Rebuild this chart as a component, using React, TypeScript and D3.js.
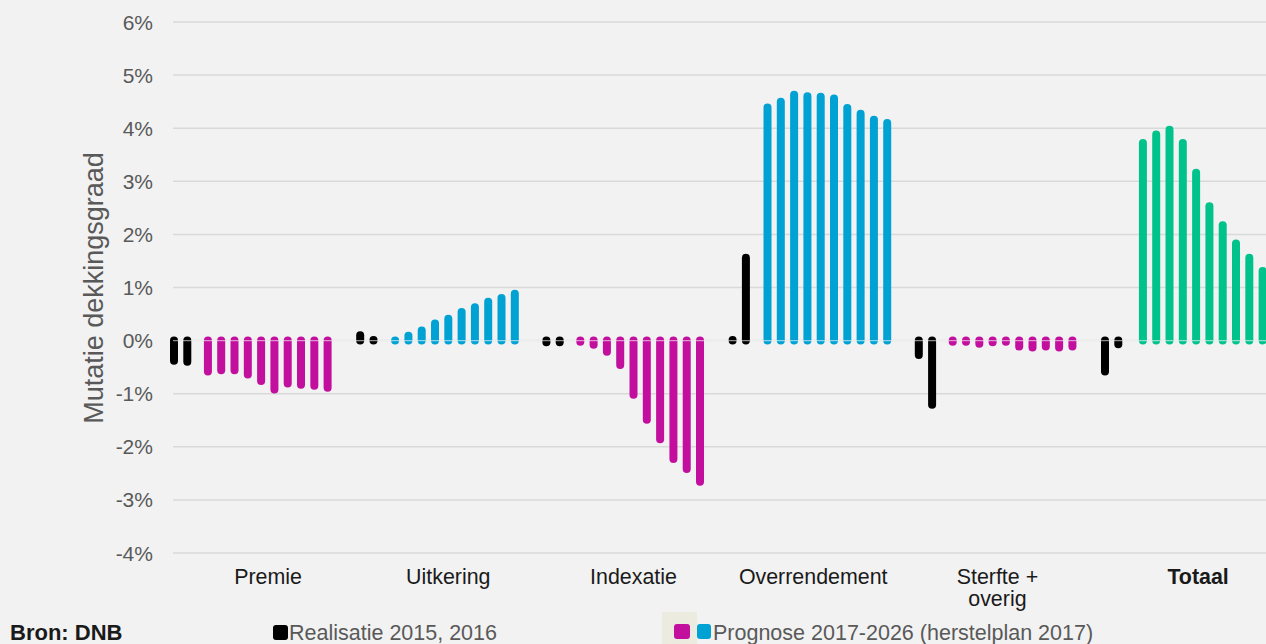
import React from "react";
import * as d3 from "d3";

const categories = ["Premie", "Uitkering", "Indexatie", "Overrendement", "Sterfte + overig", "Totaal"];
const categoryLines = [["Premie"], ["Uitkering"], ["Indexatie"], ["Overrendement"], ["Sterfte +", "overig"], ["Totaal"]];
const realisatie = [
  [-0.38, -0.4],
  [0.1, 0.01],
  [-0.03, -0.03],
  [0.01, 1.56],
  [-0.27, -1.21],
  [-0.58, -0.07],
];
const prognose = [
  [-0.58, -0.56, -0.56, -0.64, -0.76, -0.92, -0.81, -0.83, -0.85, -0.89],
  [0.0, 0.09, 0.19, 0.32, 0.41, 0.54, 0.63, 0.73, 0.8, 0.88],
  [-0.02, -0.08, -0.21, -0.46, -1.02, -1.49, -1.86, -2.23, -2.42, -2.66],
  [4.39, 4.5, 4.63, 4.6, 4.59, 4.56, 4.38, 4.27, 4.16, 4.1],
  [-0.02, -0.02, -0.06, -0.03, -0.02, -0.11, -0.13, -0.11, -0.13, -0.11],
  [3.72, 3.88, 3.97, 3.72, 3.16, 2.53, 2.17, 1.83, 1.56, 1.31],
];
const prognoseKind = ["neg", "pos", "neg", "pos", "neg", "tot"];
const yTicks = [-4, -3, -2, -1, 0, 1, 2, 3, 4, 5, 6];
const legendLabels = ["Realisatie 2015, 2016", "Prognose 2017-2026 (herstelplan 2017)"];
const sourceLabel = "Bron: DNB";
const yTitle = "Mutatie dekkingsgraad";

const W = 1266;
const H = 644;
const FONT = "'Liberation Sans', Arial, Helvetica, sans-serif";
const colors: Record<string, string> = {
  real: "#000000",
  neg: "#c20f9e",
  pos: "#00a1d3",
  tot: "#00c28b",
};
const labelShift = [1, -5, -6, -12.5, -14.5, 0];
const groupShift = [0, 1, 0, 1, 0, 4];

export default function App() {
  const y = d3.scaleLinear().domain([-4, 6]).range([553, 22]);
  const x = d3
    .scaleBand<string>()
    .domain(categories)
    .range([174, 174 + 6 * 186.2])
    .paddingInner(0)
    .paddingOuter(0);
  const slot = d3.scaleLinear().domain([0, 1]).range([0, 13.3]);
  const bw = 8;

  const bars: { x: number; v: number; c: string }[] = [];
  categories.forEach((cat, i) => {
    const x0 = x(cat)!;
    realisatie[i].forEach((v, k) => bars.push({ x: x0 + slot(k), v, c: colors.real }));
    prognose[i].forEach((v, k) =>
      bars.push({ x: x0 + groupShift[i] + slot(2.55 + k), v, c: colors[prognoseKind[i]] })
    );
  });

  return (
    <div style={{ position: "fixed", left: 0, top: 0, width: W, height: H, background: "#f2f2f2", overflow: "hidden" }}>
      <svg width={W} height={H} style={{ display: "block", fontFamily: FONT }}>
        <rect x={0} y={0} width={W} height={H} fill="#f2f2f2" />
        {yTicks.map((t) => (
          <g key={t}>
            <line x1={173} x2={W} y1={y(t)} y2={y(t)} stroke="#d9d9d9" strokeWidth={1.5} />
            <text x={153} y={y(t) + 7.5} textAnchor="end" fontSize={21} fill="#595959">
              {t}%
            </text>
          </g>
        ))}
        {bars.map((b, i) => (
          <line
            key={i}
            x1={b.x}
            x2={b.x}
            y1={y(0)}
            y2={y(b.v)}
            stroke={b.c}
            strokeWidth={bw}
            strokeLinecap="round"
          />
        ))}
        <line x1={173} x2={W} y1={y(0)} y2={y(0)} stroke="#ffffff" strokeOpacity={0.55} strokeWidth={1.2} />
        <text
          transform={`translate(103,288) rotate(-90)`}
          textAnchor="middle"
          fontSize={27}
          fill="#595959"
        >
          {yTitle}
        </text>
        {categories.map((cat, i) => (
          <text
            key={cat}
            x={x(cat)! + x.bandwidth() / 2 + labelShift[i]}
            y={584}
            textAnchor="middle"
            fontSize={21.4}
            fill="#1a1a1a"
            fontWeight={cat === "Totaal" ? "bold" : "normal"}
          >
            {categoryLines[i].map((ln, j) => (
              <tspan key={j} x={x(cat)! + x.bandwidth() / 2 + labelShift[i]} dy={j === 0 ? 0 : 22}>
                {ln}
              </tspan>
            ))}
          </text>
        ))}
        <text x={10} y={640} fontSize={22} fontWeight="bold" fill="#1a1a1a">
          {sourceLabel}
        </text>
        <rect x={273} y={625} width={15} height={15} rx={3} fill={colors.real} />
        <text x={289} y={640} fontSize={21.5} fill="#595959">
          {legendLabels[0]}
        </text>
        <rect x={662} y={612} width={35} height={32} fill="#ecebe0" />
        <rect x={674} y={624} width={16} height={15} rx={3} fill={colors.neg} />
        <rect x={697} y={624} width={14} height={15} rx={3} fill={colors.pos} />
        <text x={713} y={640} fontSize={21.5} fill="#595959">
          {legendLabels[1]}
        </text>
      </svg>
    </div>
  );
}
